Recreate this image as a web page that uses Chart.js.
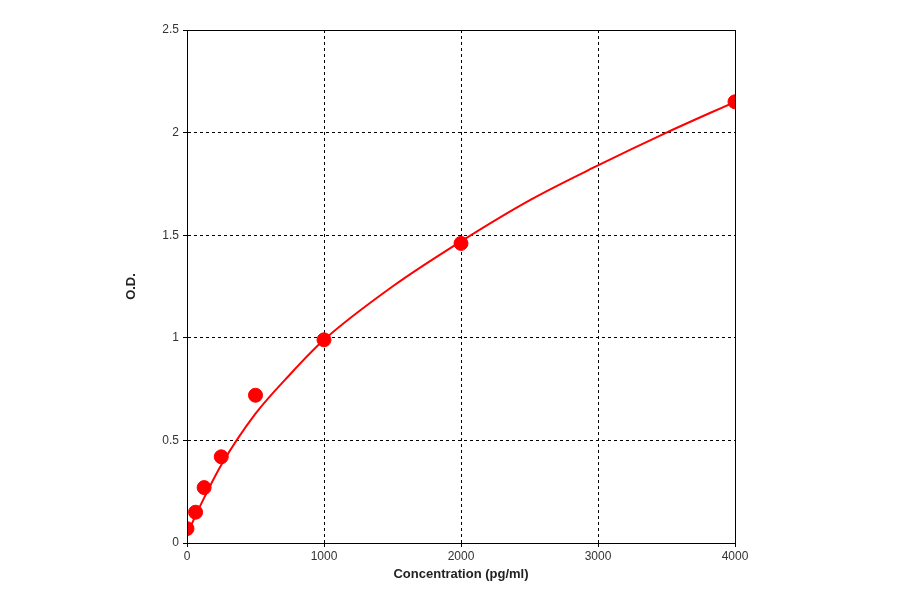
<!DOCTYPE html><html><head><script src="https://cdn.jsdelivr.net/npm/chart.js@4"></script>
<style>body{margin:0;background:#fff}#w{width:900px;height:594px}</style></head><body><div id="w"><canvas id="c"></canvas></div>
<script>
const concentrations=[0,62.5,125,250,500,1000,2000,4000];
const odValues=[0.07,0.15,0.27,0.42,0.72,0.99,1.46,2.15];
const curveX=[0,60,125,250,500,750,1000,1500,2000,2500,3000,3500,4000];
const curveY=[0.04,0.13,0.22,0.38,0.63,0.82,0.99,1.25,1.47,1.67,1.84,2.0,2.15];
const xTicks=[0,1000,2000,3000,4000];
new Chart(document.getElementById('c'),{type:'scatter',data:{datasets:[
{type:'line',data:curveX.map((x,i)=>({x,y:curveY[i]})),borderColor:'#ff0000',borderWidth:2,pointRadius:0,cubicInterpolationMode:'monotone',fill:false},
{data:concentrations.map((x,i)=>({x,y:odValues[i]})),backgroundColor:'#ff0000',borderColor:'#ff0000',pointRadius:7}
]},options:{responsive:true,maintainAspectRatio:false,animation:false,
layout:{padding:{left:120,right:165,top:30,bottom:8}},
plugins:{legend:{display:false},tooltip:{enabled:false}},
scales:{x:{type:'linear',min:0,max:4000,afterBuildTicks:a=>{a.ticks=xTicks.map(v=>({value:v}))},
afterFit:s=>{s.height=43},
grid:{color:'#000',tickLength:4,drawTicks:true},border:{color:'#000',width:1,dash:[3,3]},
ticks:{color:'#333',font:{family:'Liberation Sans',size:12},padding:2,callback:v=>String(v)},
title:{display:true,text:'Concentration (pg/ml)',color:'#222',font:{family:'Liberation Sans',size:13,weight:'bold'},padding:{top:2}}},
y:{min:0,max:2.5,afterFit:s=>{s.width=67},
ticks:{stepSize:0.5,color:'#333',font:{family:'Liberation Sans',size:12},padding:4,callback:v=>String(v)},
grid:{color:'#000',tickLength:4},border:{color:'#000',width:1,dash:[3,3]},
title:{display:true,text:'O.D.',color:'#222',font:{family:'Liberation Sans',size:13,weight:'bold'}}}}},
plugins:[{id:'frame',afterDraw(c){const a=c.chartArea,x=c.ctx;x.save();x.strokeStyle='#000';x.lineWidth=1;x.setLineDash([]);x.strokeRect(a.left+.5,a.top+.5,a.right-a.left,a.bottom-a.top);x.restore();}}]});
</script></body></html>
